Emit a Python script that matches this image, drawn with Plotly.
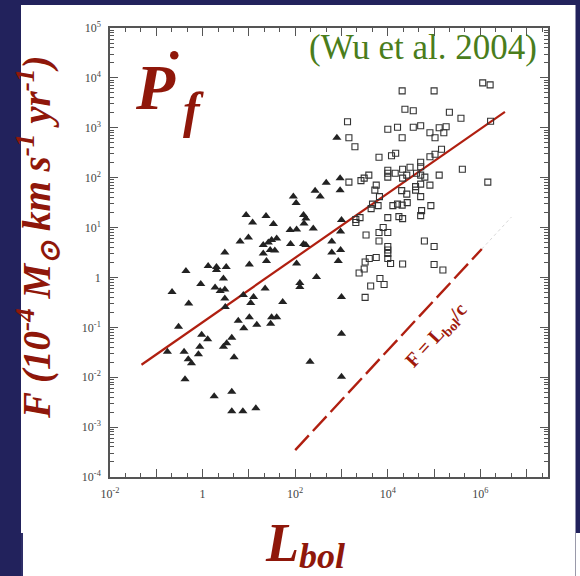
import plotly.graph_objects as go
import numpy as np

# ---------------- data (log10 values) ----------------
tri_logL = [0.94, 1.08, 0.81, 0.99, 0.48, 1.01, 0.12, 0.30, 0.30, 0.51, -0.36, 0.45, -0.04, -0.66,
            0.27, 0.38, 0.48, 0.88, 1.10, 0.48, 1.04, -0.30, 0.49, -0.52, 0.77, 1.01, 0.89, 1.17,
            -0.02, 0.11, 0.63, 0.52, 0.45, -0.06, -0.76, -0.40, -0.09, -0.31, -0.24, 0.68, -0.38,
            0.25, 0.63, 0.63, 0.87, 1.15,
            2.90, 2.67, 2.97, 2.97, 2.43, 2.54, 1.96, 2.02, 1.37, 1.53, 2.18, 2.23, 2.19, 2.39,
            3.00, 2.98, 1.89, 2.03, 1.60, 1.49, 1.42, 1.31, 1.90, 2.18, 2.23, 2.79, 1.46, 1.56,
            1.31, 2.79, 2.98, 1.38, 2.03, 2.93, 2.46, 2.10, 2.10, 1.35, 3.00, 1.73, 1.49, 1.60,
            1.47, 3.00, 2.32, 3.00]
tri_logF = [1.25, 1.10, 0.72, 0.80, 0.50, 0.26, 0.23, 0.21, 0.15, 0.21, 0.13, -0.02, -0.13, -0.29,
            -0.20, -0.27, -0.24, -0.35, -0.39, -0.42, -0.51, -0.52, -0.59, -0.99, -0.87, -0.80, -1.02, -0.95,
            -1.15, -1.24, -1.21, -1.32, -1.39, -1.39, -1.49, -1.49, -1.54, -1.64, -1.72, -1.60, -2.04,
            -2.38, -2.29, -2.68, -2.68, -2.62,
            2.80, 1.90, 1.99, 1.75, 1.74, 1.62, 1.62, 1.49, 1.23, 1.07, 1.25, 1.18, 1.08, 0.98,
            1.15, 0.92, 0.95, 0.96, 0.78, 0.75, 0.70, 0.65, 0.67, 0.67, 0.65, 0.72, 0.55, 0.54,
            0.48, 0.50, 0.55, 0.33, 0.28, 0.33, 0.01, -0.11, -0.19, -0.22, -0.39, -0.49, -0.80, -0.80,
            -0.93, -1.13, -1.69, -1.99]

sq_logL = [4.31, 5.00, 6.05, 6.21, 3.13, 4.37, 4.55, 5.33, 5.58, 6.22, 4.00, 4.21, 4.55, 4.71,
           4.91, 5.11, 5.26, 5.21, 5.02, 4.31, 3.16, 3.29, 5.16, 5.02, 4.91, 4.17, 4.08, 3.81,
           4.71, 5.61, 4.48, 4.32, 4.16, 4.00, 4.00, 4.00, 4.41, 4.62, 4.71, 4.71, 4.80, 5.11,
           4.32, 3.59, 3.49, 3.42, 3.16, 3.75, 3.72, 3.82, 4.30, 4.41, 4.60, 4.60, 4.71, 4.91,
           4.71, 6.16, 3.64, 3.67, 3.79, 4.11, 4.21, 4.31, 4.42, 4.93, 4.71, 4.73, 4.24, 4.32,
           4.00, 3.40, 3.31, 3.31, 3.53, 3.81, 3.90, 4.00, 3.81, 4.79, 5.00, 4.00, 4.00, 4.00,
           4.00, 4.06, 3.60, 3.75, 3.51, 3.49, 3.38, 4.32, 5.00, 5.19, 3.83, 3.92, 3.63, 3.51]
sq_logF = [3.74, 3.74, 3.90, 3.86, 3.12, 3.37, 3.34, 3.31, 3.19, 3.13, 2.97, 3.01, 3.01, 3.04,
           2.90, 3.00, 3.02, 2.90, 2.80, 2.80, 2.80, 2.62, 2.57, 2.47, 2.42, 2.49, 2.44, 2.41,
           2.31, 2.17, 2.21, 2.17, 2.09, 2.15, 2.09, 2.01, 2.05, 2.09, 2.05, 2.22, 2.01, 2.05,
           1.99, 2.05, 1.99, 1.94, 1.91, 1.85, 1.75, 1.62, 1.74, 1.67, 1.82, 1.75, 1.87, 1.85,
           1.62, 1.91, 1.38, 1.47, 1.44, 1.44, 1.47, 1.45, 1.50, 1.44, 1.24, 1.34, 1.22, 1.18,
           1.20, 1.20, 1.16, 1.10, 0.85, 0.90, 1.00, 0.90, 0.73, 0.73, 0.62, 0.62, 0.55, 0.48,
           0.38, 0.28, 0.38, 0.40, 0.31, 0.17, 0.09, 0.27, 0.26, 0.15, -0.02, -0.14, -0.17, -0.40]

fit_logL = [-1.32, 6.53]
fit_logF = [-1.75, 3.32]

edd_logL = [2.00, 6.03]          # F = L_bol / c  (slope 1)
edd_faint_logL = [6.03, 6.67]
edd_offset = -5.46

x_tick_exp = list(range(-2, 8))
x_tick_text = ["10<sup>-2</sup>", "", "1", "", "10<sup>2</sup>", "", "10<sup>4</sup>", "", "10<sup>6</sup>", ""]
y_tick_exp = list(range(-4, 6))
y_tick_text = ["10<sup>-4</sup>", "10<sup>-3</sup>", "10<sup>-2</sup>", "10<sup>-1</sup>", "1",
               "10<sup>1</sup>", "10<sup>2</sup>", "10<sup>3</sup>", "10<sup>4</sup>", "10<sup>5</sup>"]

# ---------------- geometry ----------------
W, H = 580, 576
ML, MR, MT, MB = 110, 32, 28, 99
PW, PH = W - ML - MR, H - MT - MB


def px(xp):
    return (xp - ML) / PW


def py(yp):
    return (H - MB - yp) / PH


NAVY = "#22225c"
RED_T = "#8f170a"
RED_L = "#b01f10"
SERIF = "Liberation Serif"

fig = go.Figure()

fig.add_trace(go.Scatter(x=10 ** np.array(fit_logL), y=10 ** np.array(fit_logF), mode="lines",
                         line=dict(color=RED_L, width=2.2), hoverinfo="skip"))
fig.add_trace(go.Scatter(x=10 ** np.array(edd_faint_logL),
                         y=10 ** (np.array(edd_faint_logL) + edd_offset), mode="lines",
                         line=dict(color="#d8d8d8", width=1, dash="dot"), hoverinfo="skip"))
fig.add_trace(go.Scatter(x=10 ** np.array(edd_logL), y=10 ** (np.array(edd_logL) + edd_offset),
                         mode="lines", line=dict(color=RED_L, width=2.4, dash="20px,6px"),
                         hoverinfo="skip"))
fig.add_trace(go.Scatter(x=10 ** np.array(tri_logL), y=10 ** np.array(tri_logF), mode="markers",
                         marker=dict(symbol="triangle-up", size=8, color="#222222",
                                     line=dict(width=0))))
fig.add_trace(go.Scatter(x=10 ** np.array(sq_logL), y=10 ** np.array(sq_logF), mode="markers",
                         marker=dict(symbol="square-open", size=6, color="#333333",
                                     line=dict(width=1.1, color="#333333"))))

x_minor = [10 ** (k + f) for k in range(-2, 8) for f in (1 / 3, 2 / 3)]
y_minor = [m * 10 ** k for k in range(-4, 5) for m in range(2, 10)]

axis_common = dict(showgrid=False, zeroline=False, showline=True, linecolor="#555555",
                   linewidth=1.5, mirror="ticks", ticks="inside", tickcolor="#555555",
                   tickwidth=1.2, tickfont=dict(family=SERIF, size=12, color="#444444"),
                   tickmode="array", ticklabelstandoff=5)

fig.update_xaxes(type="log", range=[-2, 7.46], tickvals=[10 ** k for k in x_tick_exp],
                 ticktext=x_tick_text, ticklen=8,
                 minor=dict(tickmode="array", tickvals=x_minor, ticks="inside", ticklen=4,
                            tickcolor="#555555", tickwidth=1.1),
                 **axis_common)
fig.update_yaxes(type="log", range=[-4, 5], tickvals=[10 ** k for k in y_tick_exp],
                 ticktext=y_tick_text, ticklen=8,
                 minor=dict(tickmode="array", tickvals=y_minor, ticks="inside", ticklen=4,
                            tickcolor="#555555", tickwidth=1.1),
                 **axis_common)

shapes = [
    dict(type="rect", xref="paper", yref="paper", x0=px(0), x1=px(21), y0=py(H), y1=py(0),
         fillcolor=NAVY, line=dict(width=0), layer="above"),
    dict(type="rect", xref="paper", yref="paper", x0=px(0), x1=px(W), y0=py(5), y1=py(0),
         fillcolor=NAVY, line=dict(width=0), layer="above"),
    dict(type="rect", xref="paper", yref="paper", x0=px(575.5), x1=px(W), y0=py(533), y1=py(0),
         fillcolor=NAVY, line=dict(width=0), layer="above"),
    dict(type="rect", xref="paper", yref="paper", x0=px(21), x1=px(23), y0=py(H), y1=py(533),
         fillcolor="#2e2e68", line=dict(width=0), layer="above"),
    dict(type="line", xref="paper", yref="paper", x0=px(575.5), x1=px(575.5), y0=py(H), y1=py(533),
         line=dict(color="#9a9aaa", width=1), layer="above"),
    dict(type="circle", xref="paper", yref="paper", x0=px(170), x1=px(178.5), y0=py(59.5), y1=py(51),
         fillcolor=RED_T, line=dict(width=0), layer="above"),
]


def ann(text, x, y, size, color=RED_T, angle=0):
    return dict(text=text, x=px(x), y=py(y), xref="paper", yref="paper", xanchor="center",
                yanchor="middle", textangle=angle, showarrow=False,
                font=dict(family=SERIF, size=size, color=color))


annotations = [
    ann("(Wu et al. 2004)", 423, 48, 35, color="#4a7d1c"),
    ann("<b><i>P</i></b>", 155, 88, 64),
    ann("<b><i>f</i></b>", 193, 110, 50),
    ann("<b><i>L</i></b>", 282, 543, 54),
    ann("<b><i>bol</i></b>", 322, 556, 36),
    ann("<b><i>F (10<sup>-4</sup> M<sub>⊙</sub> km s<sup>-1</sup> yr<sup>-1</sup>)</i></b>",
        38, 237, 39, angle=-90),
    ann("<b>F = L<sub>bol</sub>/c</b>", 436, 336, 20, color="#a01a0c", angle=-47),
]

fig.update_layout(width=W, height=H, margin=dict(l=ML, r=MR, t=MT, b=MB, autoexpand=False),
                  paper_bgcolor="white", plot_bgcolor="white", showlegend=False,
                  hovermode=False, shapes=shapes, annotations=annotations)

fig.write_html("out.html")
